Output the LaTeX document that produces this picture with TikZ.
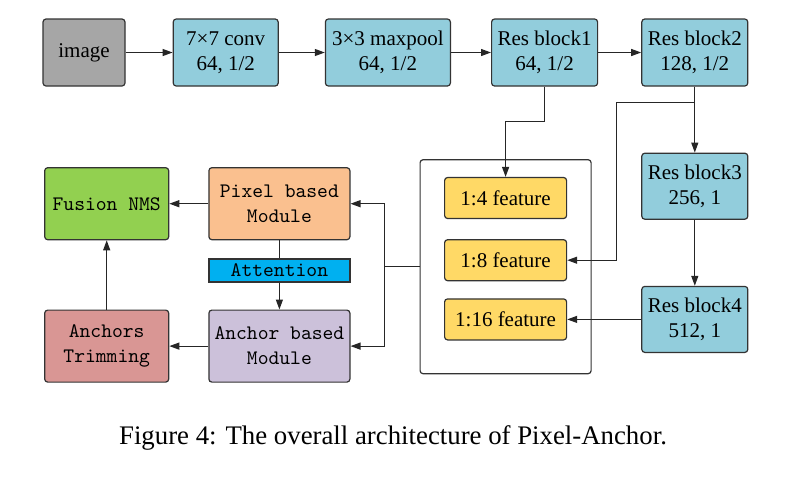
\documentclass[tikz,border=0pt]{standalone}
\usepackage{fontspec}
\setmainfont{Liberation Serif}
\usepackage{xcolor}
\definecolor{colorImage}{RGB}{166,166,166}
\definecolor{colorRes}{RGB}{146,205,220}
\definecolor{colorFeature}{RGB}{255,217,102}
\definecolor{colorPixel}{RGB}{250,192,143}
\definecolor{colorAnchor}{RGB}{204,193,218}
\definecolor{colorFusion}{RGB}{146,208,80}
\definecolor{colorTrim}{RGB}{217,150,148}
\definecolor{colorAttention}{RGB}{0,176,240}
\usetikzlibrary{arrows.meta, positioning}
\tikzset{
  block/.style={draw=black!80, line width=0.6pt, rounded corners=1.5pt, align=center, inner sep=0pt, font=\fontsize{10.5}{12.5}\selectfont},
  resblock/.style={block, fill=colorRes, minimum width=53pt, minimum height=33.5pt},
  featblock/.style={block, fill=colorFeature, minimum width=61pt, minimum height=20.5pt},
  moduleblock/.style={block, minimum width=70.5pt, minimum height=36pt, font=\ttfamily\fontsize{10.3}{12.5}\selectfont},
  headblock/.style={moduleblock, minimum width=62pt},
}
\begin{document}
\begin{tikzpicture}[>={Triangle[length=5pt,width=3.5pt]}, line width=0.6pt, draw=black!85, node distance=20pt]
\useasboundingbox (0,0) rectangle (405pt,-242pt);
\node[resblock, fill=colorImage, minimum width=41pt] (image) at (42pt,-26.25pt) {image};
\node[resblock, minimum width=52.5pt, right=23.5pt of image] (conv) {7×7 conv\\64, 1/2};
\node[resblock, minimum width=62.5pt, right=23pt of conv] (pool) {3×3 maxpool\\64, 1/2};
\node[resblock, right=20pt of pool] (res1) {Res block1\\64, 1/2};
\node[resblock, right=21.5pt of res1] (res2) {Res block2\\128, 1/2};
\node[resblock, minimum height=33pt, below=33pt of res2] (res3) {Res block3\\256, 1};
\node[resblock, minimum height=33pt, below=33pt of res3] (res4) {Res block4\\512, 1};
\node[featblock, left=37pt of res4] (feat16) {1:16 feature};
\node[featblock, above=8.5pt of feat16] (feat8) {1:8 feature};
\node[featblock, above=10pt of feat8] (feat4) {1:4 feature};
\node[draw=black!80, rounded corners=1.5pt, minimum width=85.5pt, minimum height=107pt] (feats) at ([yshift=-3.25pt]feat8.center) {};
\node[moduleblock, fill=colorPixel, left=34.5pt of feats, yshift=31.5pt] (pixel) {Pixel based\\Module};
\node[moduleblock, fill=colorAttention, rounded corners=0pt, minimum height=11.5pt, below=9pt of pixel] (attention) {Attention};
\node[moduleblock, fill=colorAnchor, below=13.5pt of attention] (anchor) {Anchor based\\Module};
\node[headblock, fill=colorFusion, left=19.5pt of pixel] (fusion) {Fusion NMS};
\node[headblock, fill=colorTrim, left=19.5pt of anchor] (trim) {Anchors\\Trimming};
\node[font=\fontsize{13.4}{15}\selectfont] (caption) at (196.5pt,-219pt) {Figure 4: The overall architecture of Pixel-Anchor.};
\draw [->] (image) edge (conv) (conv) edge (pool) (pool) edge (res1) (res1) edge (res2);
\draw [->] (res2) edge (res3) (res3) edge (res4) (res4) edge (feat16);
\draw [->] (res1.south) -- ++(0,-17.5pt) -| (feat4.north);
\draw [->] (res2.south) -- ++(0,-8pt) -- ++(-39pt,0) |- (feat8.east);
\draw (feats.west) -- ++(-17.5pt,0) coordinate (split);
\draw [->] (split) |- (pixel.east);
\draw [->] (split) |- (anchor.east);
\draw [->] (pixel) edge (fusion) (anchor) edge (trim) (trim) edge (fusion);
\draw (pixel) -- (attention);
\draw [->] (attention) -- (anchor);
\end{tikzpicture}
\end{document}
